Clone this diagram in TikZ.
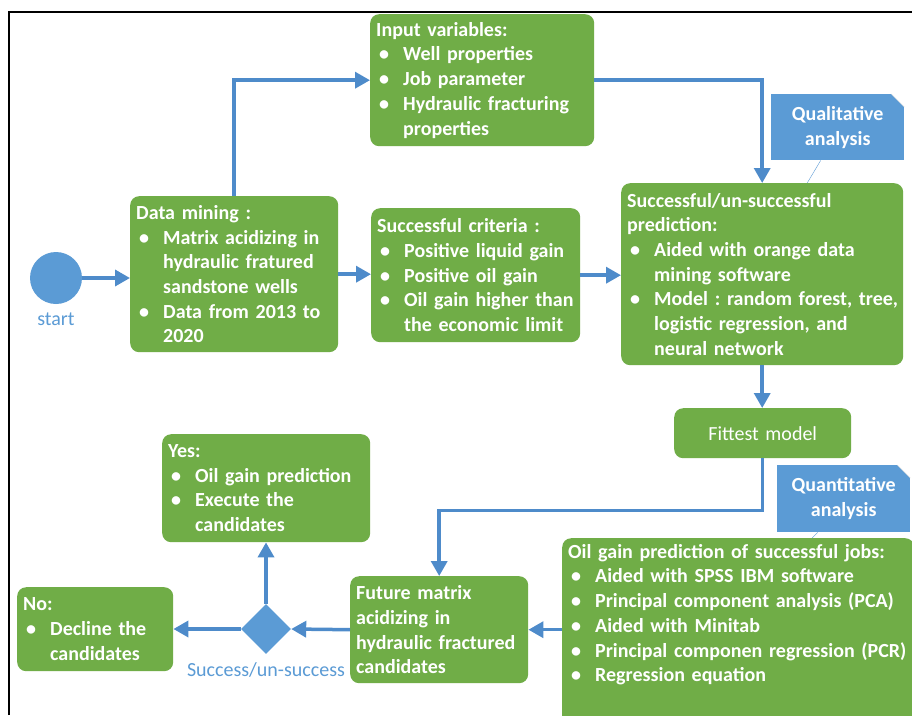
\documentclass[tikz,border=0pt]{standalone}
\usepackage{fontspec}
\setmainfont{Carlito}
\usetikzlibrary{positioning,shapes.geometric,arrows.meta}
\setlength{\parindent}{0pt}
\frenchspacing
\hyphenpenalty=10000
\definecolor{boxgreen}{HTML}{70AD47}
\definecolor{shapeblue}{HTML}{5B9BD5}
\definecolor{linkblue}{HTML}{4E8BCA}
\newcommand{\itm}[1]{\par\hangindent=27pt\hangafter=1\noindent\makebox[27pt][l]{\hspace{3pt}\textbullet}#1\par}
\tikzset{greenbox/.style={draw = none, fill = boxgreen, rounded corners = 9pt, text = white, anchor = north west, align = left, inner xsep = 6pt, inner ysep = 4pt, font = \bfseries\fontsize{20}{24.7}\selectfont}}
\tikzset{notebox/.style={fill = shapeblue, text = white, anchor = north west, align = center, inner sep = 0pt, font = \bfseries\fontsize{20}{24.7}\selectfont}}
\tikzset{bluetext/.style={text = shapeblue, inner sep = 0pt, font = \fontsize{20}{24}\selectfont}}
\tikzset{flow/.style={draw = linkblue, line width = 3.5pt, -{Triangle[length=15pt,width=16pt]}}}

\begin{document}
\begin{tikzpicture}[x = 1pt, y = -1pt, node distance = 6pt]
  \clip (0,0) rectangle (912,715);
  \fill[white] (0,0) rectangle (912,715);
  \draw[line width = 2pt] (9,715) -- (9,12) -- (912,12);

  \node (start) [circle, fill = shapeblue, minimum size = 52pt, inner sep = 0pt] at (56,278) {};
  \node (startlbl) [bluetext, below = 8pt of start] {start};

  \node (mining) [greenbox, text width = 196pt, minimum height = 156pt] at (130,196) {Data mining :
    \itm{Matrix acidizing in\newline hydraulic fratured\newline sandstone wells}
    \itm{Data from 2013 to\newline 2020}};
  \node (input) [greenbox, text width = 212pt, minimum height = 132pt] at (370,14) {Input variables:
    \itm{Well properties}
    \itm{Job parameter}
    \itm{Hydraulic fracturing\newline properties}};
  \node (criteria) [greenbox, text width = 197pt, minimum height = 134pt] at (371,208) {Successful criteria :
    \itm{Positive liquid gain}
    \itm{Positive oil gain}
    \itm{Oil gain higher than\newline the economic limit}};
  \node (pred) [greenbox, text width = 270pt, minimum height = 182pt] at (621,183) {Successful/un-successful\newline prediction:
    \itm{Aided with orange data\newline mining software}
    \itm{\mbox{Model : random forest, tree,}\newline logistic regression, and\newline neural network}};
  \node (fittest) [greenbox, align = center, text width = 165pt, minimum height = 50pt, font = \mdseries\fontsize{20}{24.7}\selectfont] at (674,408) {Fittest model};
  \node (oilgain) [greenbox, text width = 340pt, inner ysep = 6pt] at (562,538) {Oil gain prediction of successful jobs:
    \itm{Aided with SPSS IBM software}
    \itm{Principal component analysis (PCA)}
    \itm{Aided with Minitab}
    \itm{Principal componen regression (PCR)}
    \itm{Regression equation}
    \vspace{30pt}\mbox{}};
  \node (future) [greenbox, text width = 166pt, minimum height = 107pt] at (350,576) {Future matrix\\acidizing in\\hydraulic fractured\\candidates};
  \node (yes) [greenbox, text width = 196pt, minimum height = 108pt] at (162,434) {Yes:
    \itm{Oil gain prediction}
    \itm{Execute the\newline candidates}};
  \node (no) [greenbox, text width = 144pt, minimum height = 84pt] at (17,587) {No:
    \itm{Decline the\newline candidates}};

  \node (dia) [diamond, fill = shapeblue, minimum width = 50pt, minimum height = 50pt, inner sep = 0pt] at (266,629) {};
  \node (dialbl) [bluetext, below = 8pt of dia] {Success/un-success};

  \node (qual) [notebox, minimum width = 133pt, minimum height = 66pt] at (771,94) {Qualitative\\analysis};
  \node (quant) [notebox, minimum width = 133pt, minimum height = 67pt] at (777,465) {Quantitative\\analysis};
  \fill[white] (qual.north east) -- ++(-13,0) -- ++(13,13) -- cycle;
  \draw[gray!30] ([xshift = -13pt]qual.north east) -- ++(13,13);
  \fill[white] (quant.north east) -- ++(-13,0) -- ++(13,13) -- cycle;
  \draw[gray!30] ([xshift = -13pt]quant.north east) -- ++(13,13);
  \draw[shapeblue, thin] ([xshift = -17pt]qual.south) -- ([xshift = 45pt]pred.north);
  \draw[shapeblue, thin] ([xshift = -26pt]quant.south) -- ([xshift = 74pt]oilgain.north);

  \draw[flow] (start.east) -- (start.east -| mining.west);
  \draw[flow] (mining.north) |- (input.west);
  \draw[flow] (input.east) -| (pred.north);
  \draw[flow] (mining.east) -- (mining.east -| criteria.west);
  \draw[flow] (criteria.east) -- (criteria.east -| pred.west);
  \draw[flow] (pred.south) -- (pred.south |- fittest.north);
  \draw[flow] (fittest.south) -- ++(0,52) -| (future.north);
  \draw[flow] (oilgain.west |- future.east) -- (future.east);
  \draw[flow] (future.west) -- (dia.east);
  \draw[flow] (dia.west) -- (dia.west -| no.east);
  \draw[flow] (dia.north) -- (dia.north |- yes.south);
\end{tikzpicture}
\end{document}
